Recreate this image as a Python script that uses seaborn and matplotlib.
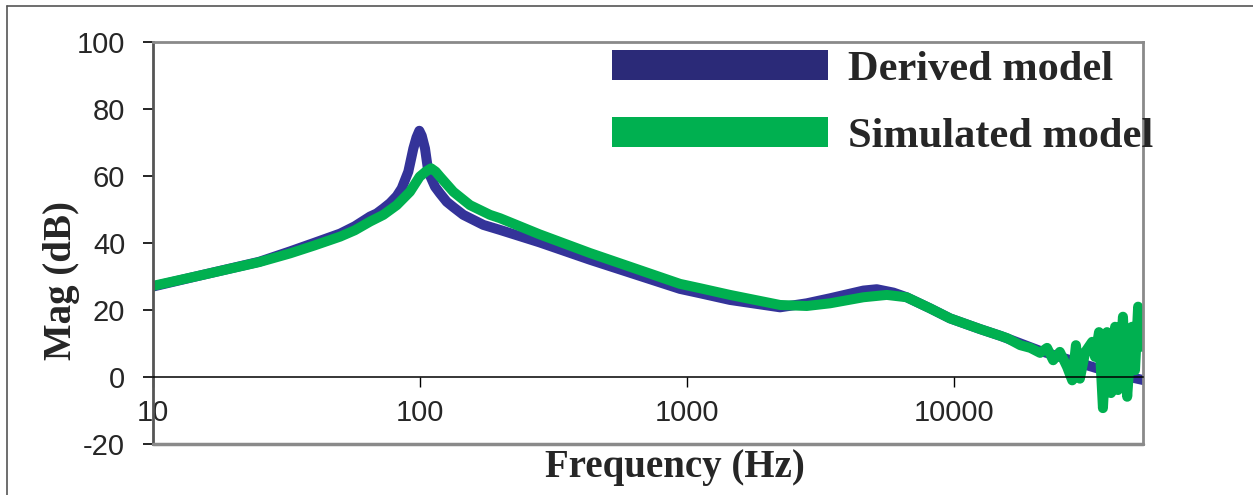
import matplotlib
matplotlib.use("Agg")
import matplotlib.pyplot as plt
from matplotlib.lines import Line2D
import seaborn as sns
import pandas as pd

# ---- data ----
derived_freq = [10, 15, 25, 32.6, 40, 50.2, 57, 65, 68.8, 72.9, 77.2, 81.8, 85.4, 90.4, 94.4,
                97, 99.4, 101.5, 104.4, 107.4, 113.8, 118.8, 125.9, 133.3, 145.3, 172.7,
                199.4, 280, 433, 941, 1119, 1449, 2230, 2808, 3433, 4575, 5134, 5925,
                6648, 8130, 9660, 12520, 14900, 21000, 30000, 40000, 51000]
derived_db = [27, 30.3, 34.4, 37.5, 40, 42.8, 45, 47.9, 48.8, 50.3, 51.9, 54, 56.3, 61.3, 68.2,
              71.5, 73.5, 72, 68.2, 61.3, 56.8, 54.8, 52.3, 50.7, 48.4, 45.4,
              43.9, 40.2, 35, 26.3, 25, 23, 20.8, 22, 23.5, 25.8, 26.2, 25.2,
              23.8, 20.5, 17.5, 14.3, 12.3, 7.8, 4, 1, -0.9]

simulated_freq = [10, 15, 25, 32.6, 40, 50.2, 57, 65, 72.9, 81.8, 91.7, 99.7, 105, 110, 114.5,
                  118.8, 133.3, 153.9, 182.9, 199.4, 280, 433, 941, 1119, 1449, 2230, 2808,
                  3433, 4575, 5598, 6648, 8130, 9660, 12520, 14900, 15800, 17700, 19300,
                  21000, 22300, 23500, 24900, 26500, 27700, 28600, 29600, 31000, 32900,
                  33700, 34900, 36100, 37400, 38700, 40100, 41100, 42900, 44500, 46400,
                  47600, 48900, 50600]
simulated_db = [27.2, 30.3, 34.3, 36.9, 39.2, 41.9, 43.8, 46.4, 48.4, 51.3, 55.3, 59.8, 61.3, 62.3, 61.3,
                59.8, 55.3, 51.3, 48.4, 47.4, 42.6, 37, 27.8, 26.5, 24.5, 21.5, 21.2,
                22, 23.8, 24.5, 23.8, 20.5, 17.5, 14.3, 12.3, 11.6, 9.5, 8.7,
                7.2, 8.7, 5, 7.5, 3, -1, 9.5, -0.5, 7.5, 10.5,
                6, 13.4, -9.3, 13.4, -4.8, 15, -3.9, 18, -5.9, 15,
                2, 21, 9]

series_labels = ["Derived model", "Simulated model"]
x_ticks = [10, 100, 1000, 10000]
x_tick_labels = ["10", "100", "1000", "10000"]
y_ticks = [-20, 0, 20, 40, 60, 80, 100]

# ---- styling ----
sns.set_style("white")
plt.rcParams["font.family"] = ["Liberation Sans", "DejaVu Sans"]

W, H = 1253, 495
fig = plt.figure(figsize=(W / 100, H / 100), dpi=100)
ax = fig.add_axes([153 / W, 1 - 444 / H, (1143 - 153) / W, (444 - 42) / H])

blue_line = "#343399"
green_line = "#00B050"

df_d = pd.DataFrame({"freq": derived_freq, "mag": derived_db})
df_s = pd.DataFrame({"freq": simulated_freq, "mag": simulated_db})

line_kw = dict(linewidth=7.2, solid_joinstyle="round", solid_capstyle="round")
sns.lineplot(data=df_d, x="freq", y="mag", ax=ax, color=blue_line, sort=False,
             estimator=None, legend=False, **line_kw)
sns.lineplot(data=df_s, x="freq", y="mag", ax=ax, color=green_line, sort=False,
             estimator=None, legend=False, **line_kw)

ax.set_xscale("log")
ax.set_xlim(10, 51000)
ax.set_ylim(-20, 100)

# y axis
ax.set_yticks(y_ticks)
ax.set_yticklabels([str(v) for v in y_ticks])
ax.tick_params(axis="y", direction="out", length=7, width=1.2, color="black",
               labelsize=21, pad=13, left=True)

# x axis drawn at y = 0
ax.spines["bottom"].set_position(("data", 0))
ax.spines["bottom"].set_color("black")
ax.spines["bottom"].set_linewidth(1.1)
ax.set_xticks(x_ticks)
ax.set_xticklabels(x_tick_labels)
ax.xaxis.set_minor_locator(matplotlib.ticker.NullLocator())
ax.tick_params(axis="x", direction="out", length=7, width=1.0, color="black",
               labelsize=21, pad=9, bottom=True)

# frame
frame_gray = "#8A8A8A"
for s in ["top", "right"]:
    ax.spines[s].set_visible(True)
    ax.spines[s].set_color(frame_gray)
    ax.spines[s].set_linewidth(2)
ax.spines["left"].set_color("#555555")
ax.spines["left"].set_linewidth(2)
ax.axhline(-20, color=frame_gray, linewidth=2.5, clip_on=False, zorder=3)

# labels
serif_bold = dict(family="Liberation Serif", weight="bold", size=28)
ax.set_xlabel("Frequency (Hz)", fontdict=serif_bold)
ax.set_ylabel("Mag (dB)", fontdict=serif_bold)
ax.xaxis.set_label_coords((675 - 153) / 990, (444 - 467) / 402)
ax.xaxis.label.set_va("center")
ax.yaxis.set_label_coords((62 - 153) / 990, (444 - 281) / 402)
ax.yaxis.label.set_va("center")

# legend
handles = [Line2D([0], [0], color="#2B2A78", linewidth=21.6, solid_capstyle="butt"),
           Line2D([0], [0], color=green_line, linewidth=21.6, solid_capstyle="butt")]
leg_size = 30.5
fs_px = leg_size * 100 / 72
leg = ax.legend(handles, series_labels, loc="upper left",
                bbox_to_anchor=(612 / W, 1 - 50 / H), bbox_transform=fig.transFigure,
                frameon=False, borderpad=0, borderaxespad=0,
                handlelength=216 / fs_px, handletextpad=20 / fs_px,
                labelspacing=0.68,
                prop=dict(family="Liberation Serif", weight="bold", size=leg_size))

# figure border (top and left)
fig.add_artist(Line2D([7 / W, 1], [1 - 6 / H, 1 - 6 / H], transform=fig.transFigure,
                      color="#555555", linewidth=1.2))
fig.add_artist(Line2D([7 / W, 7 / W], [0, 1 - 6 / H], transform=fig.transFigure,
                      color="#555555", linewidth=1.2))

fig.savefig("out.png", dpi=100)
